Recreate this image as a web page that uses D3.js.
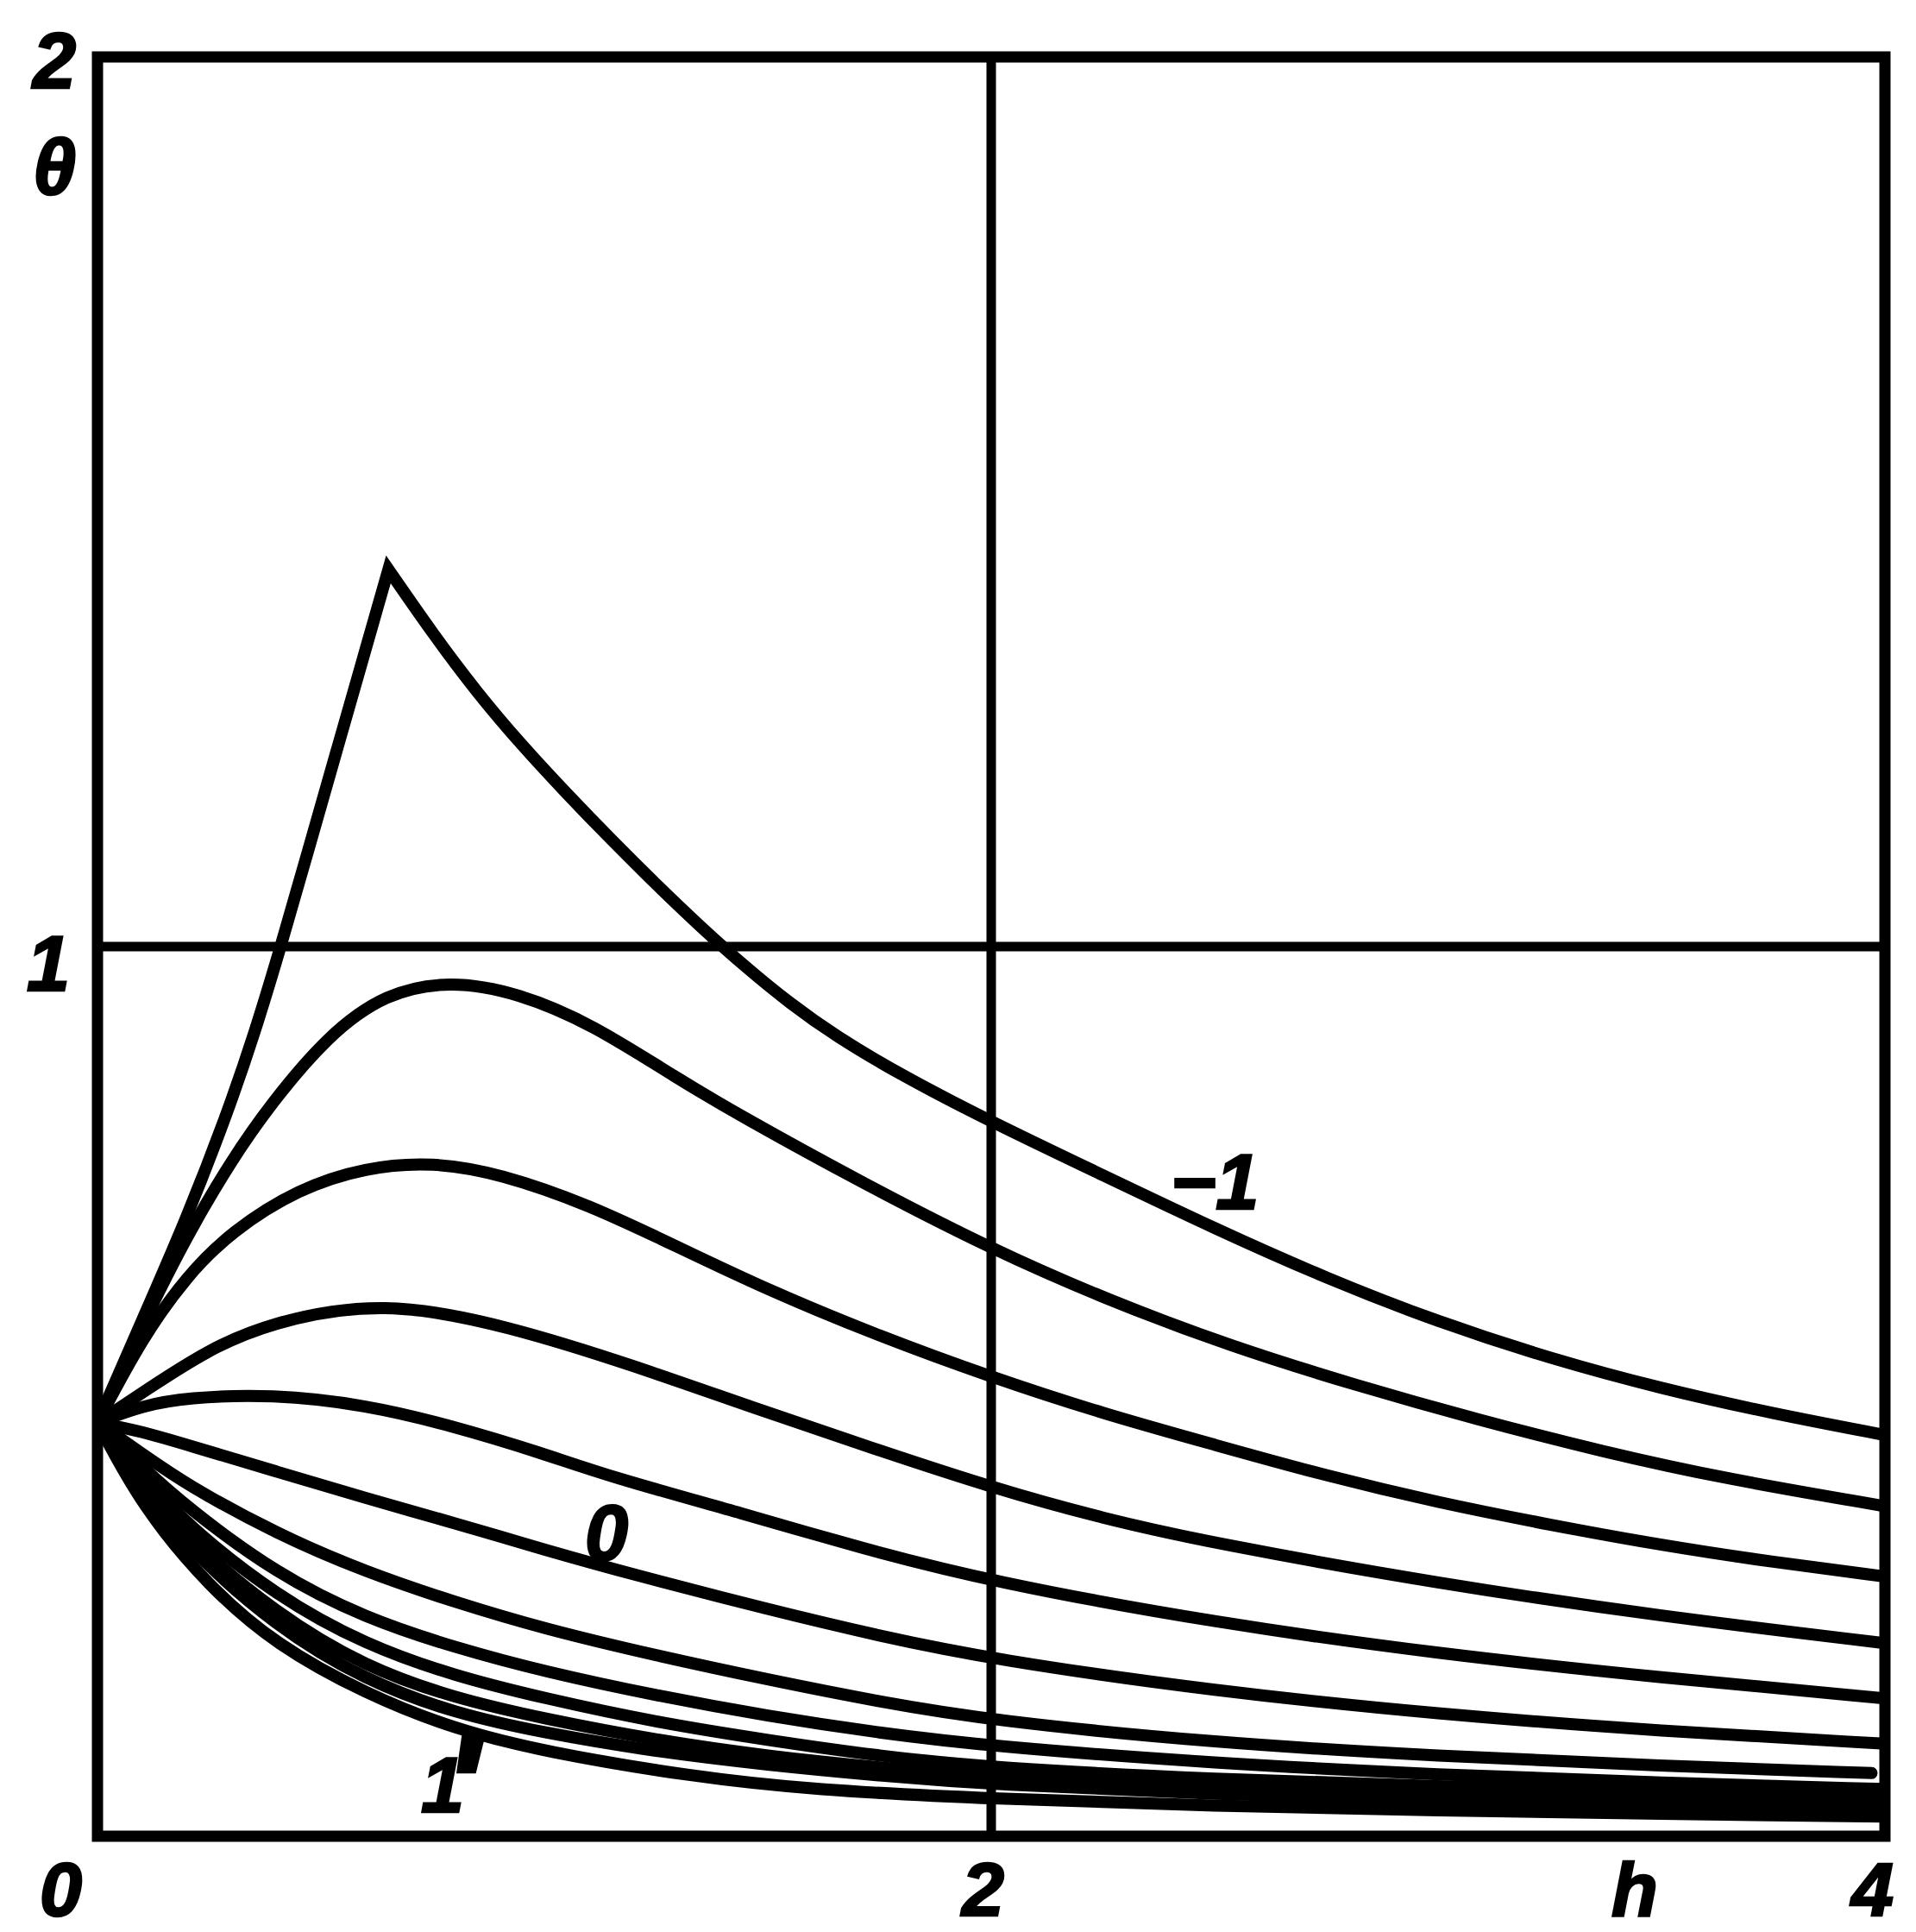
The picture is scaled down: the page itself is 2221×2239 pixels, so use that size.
<!DOCTYPE html>
<html>
<head>
<meta charset="utf-8">
<script src="https://cdn.jsdelivr.net/npm/d3@7"></script>
<style>
  body { margin: 0; background: #fff; }
  text { font-family: "Liberation Sans Narrow", "Liberation Sans", "DejaVu Sans Condensed", sans-serif;
         font-style: italic; font-weight: bold; fill: #000; stroke: #000; stroke-width: 2.5px; }
</style>
</head>
<body>
<svg id="chart" width="2221" height="2239"></svg>
<script>
// Axis ticks
const hTicks = [0, 2, 4];
const thetaTicks = [1, 2];
const hTickLabels = ["0", "2", "4"];
const thetaTickLabels = ["1", "2"];

// Family of θ(h) curves, listed from top to bottom, as [h, θ] pairs.
// The uppermost curve (−1) has a sharp peak: rising and falling branches.
const curveTopRise = [[0, 0.465], [0.1, 0.58], [0.2, 0.695], [0.29, 0.812], [0.35, 0.9],
  [0.409, 0.998], [0.471, 1.107], [0.535, 1.22], [0.6, 1.334], [0.651, 1.424]];
const curveTopFall = [[0.651, 1.424], [0.75, 1.352], [0.85, 1.285], [0.95, 1.226],
  [1.05, 1.172], [1.15, 1.12], [1.25, 1.07], [1.35, 1.022], [1.45, 0.977], [1.55, 0.936],
  [1.65, 0.9], [1.8, 0.855], [2.0, 0.803], [2.25, 0.743], [2.5, 0.683], [2.75, 0.627],
  [3.0, 0.578], [3.25, 0.537], [3.5, 0.503], [3.75, 0.475], [4.0, 0.451]];
const curve02 = [[0, 0.465], [0.1, 0.575], [0.2, 0.675], [0.3, 0.76], [0.386, 0.822],
  [0.515, 0.90], [0.645, 0.948], [0.79, 0.962], [0.942, 0.948], [1.107, 0.913],
  [1.3, 0.851], [1.438, 0.81], [1.713, 0.734], [2.0, 0.66], [2.264, 0.602], [2.54, 0.55],
  [2.815, 0.507], [3.09, 0.468], [3.37, 0.432], [3.64, 0.402], [4.0, 0.371]];
const curve03 = [[0, 0.465], [0.1, 0.56], [0.2, 0.63], [0.3, 0.68], [0.45, 0.728],
  [0.6, 0.752], [0.75, 0.758], [0.9, 0.745], [1.1, 0.71], [1.3, 0.662], [1.5, 0.614],
  [1.75, 0.562], [2.0, 0.516], [2.25, 0.475], [2.5, 0.44], [2.75, 0.405], [3.0, 0.375],
  [3.25, 0.35], [3.5, 0.327], [3.75, 0.308], [4.0, 0.292]];
const curve04 = [[0, 0.465], [0.11, 0.502], [0.245, 0.546], [0.382, 0.577], [0.639, 0.603],
  [0.923, 0.573], [1.195, 0.53], [1.465, 0.482], [1.735, 0.436], [2.0, 0.392],
  [2.25, 0.357], [2.5, 0.329], [3.0, 0.284], [3.5, 0.247], [4.0, 0.217]];
const curve05 = [[0, 0.465], [0.1, 0.484], [0.2, 0.493], [0.39, 0.497], [0.6, 0.485],
  [0.79, 0.462], [1.0, 0.43], [1.14, 0.405], [1.45, 0.362], [1.7, 0.325], [2.0, 0.286],
  [2.5, 0.24], [3.0, 0.205], [3.5, 0.178], [4.0, 0.155]];
const curve06 = [[0, 0.465], [0.1, 0.455], [0.2, 0.44], [0.4, 0.41], [0.6, 0.38],
  [0.8, 0.352], [1.0, 0.322], [1.2, 0.294], [1.5, 0.255], [1.75, 0.225], [2.0, 0.199],
  [2.5, 0.163], [3.0, 0.137], [3.5, 0.118], [4.0, 0.104]];
const curve07 = [[0, 0.465], [0.1, 0.43], [0.2, 0.395], [0.4, 0.34], [0.6, 0.297],
  [0.8, 0.263], [1.0, 0.233], [1.25, 0.203], [1.5, 0.176], [1.75, 0.151], [2.0, 0.13],
  [2.5, 0.105], [3.0, 0.09], [3.5, 0.079], [3.97, 0.071]];
const curve08 = [[0, 0.465], [0.1, 0.415], [0.2, 0.37], [0.4, 0.295], [0.6, 0.245],
  [0.8, 0.212], [1.0, 0.185], [1.25, 0.158], [1.5, 0.135], [1.75, 0.116], [2.0, 0.101],
  [2.5, 0.082], [3.0, 0.069], [3.5, 0.06], [4.0, 0.053]];
const curve09 = [[0, 0.465], [0.1, 0.405], [0.2, 0.35], [0.4, 0.27], [0.6, 0.215],
  [0.8, 0.18], [1.0, 0.155], [1.25, 0.128], [1.5, 0.108], [1.75, 0.09], [2.0, 0.077],
  [2.5, 0.064], [3.0, 0.056], [3.5, 0.05], [4.0, 0.045]];
const curve10 = [[0, 0.465], [0.1, 0.395], [0.2, 0.335], [0.4, 0.25], [0.6, 0.19],
  [0.8, 0.155], [1.0, 0.132], [1.25, 0.108], [1.5, 0.09], [1.75, 0.077], [2.0, 0.067],
  [2.5, 0.055], [3.0, 0.047], [3.5, 0.042], [4.0, 0.038]];
const curve11 = [[0, 0.465], [0.1, 0.39], [0.2, 0.325], [0.4, 0.235], [0.6, 0.175],
  [0.8, 0.138], [1.0, 0.116], [1.25, 0.095], [1.5, 0.08], [1.75, 0.068], [2.0, 0.058],
  [2.5, 0.047], [3.0, 0.04], [3.5, 0.035], [4.0, 0.031]];
const curve12 = [[0, 0.465], [0.1, 0.37], [0.25, 0.28], [0.4, 0.215], [0.6, 0.16],
  [0.8, 0.12], [1.0, 0.095], [1.33, 0.067], [1.6, 0.052], [2.0, 0.042], [2.5, 0.034],
  [3.0, 0.029], [3.5, 0.025], [4.0, 0.022]];

// Curve labels: text and the [h, θ] spot they sit at
const curveLabels = [
  { text: "−1", at: [2.5, 0.705] },
  { text: "0",  at: [1.139, 0.31] }
];
const primeLabel = { text: "1", mark: "'", at: [0.724, 0.027] };

const svg = d3.select("#chart");
const x = d3.scaleLinear().domain([0, 4]).range([113, 2185]);
const y = d3.scaleLinear().domain([0, 2]).range([2128, 66]);

svg.append("defs").append("clipPath").attr("id", "plotArea")
  .append("rect").attr("x", x(0)).attr("y", y(2))
  .attr("width", x(4) - x(0)).attr("height", y(0) - y(2));

// grid lines at h = 2 and θ = 1
svg.append("line").attr("x1", x(2)).attr("x2", x(2)).attr("y1", y(2)).attr("y2", y(0))
  .attr("stroke", "#000").attr("stroke-width", 11);
svg.append("line").attr("x1", x(0)).attr("x2", x(4)).attr("y1", y(1)).attr("y2", y(1))
  .attr("stroke", "#000").attr("stroke-width", 11);

const line = d3.line().x(d => x(d[0])).y(d => y(d[1])).curve(d3.curveBasis);

const g = svg.append("g").attr("clip-path", "url(#plotArea)");
const strokeStyle = sel => sel.attr("fill", "none").attr("stroke", "#000")
  .attr("stroke-width", 14).attr("stroke-linejoin", "miter").attr("stroke-linecap", "round");

// peaked top curve as one path with a corner at the peak
g.append("path")
  .attr("d", line(curveTopRise) + line(curveTopFall).replace(/^M/, "L"))
  .call(strokeStyle);

const smoothCurves = [curve02, curve03, curve04, curve05, curve06, curve07,
  curve08, curve09, curve10, curve11, curve12];
g.selectAll("path.smooth").data(smoothCurves).join("path")
  .attr("class", "smooth").attr("d", line).call(strokeStyle);

// frame
svg.append("rect").attr("x", x(0)).attr("y", y(2))
  .attr("width", x(4) - x(0)).attr("height", y(0) - y(2))
  .attr("fill", "none").attr("stroke", "#000").attr("stroke-width", 13);

// axes (labels only)
const fontSize = 90;
const xAxis = d3.axisBottom(x).tickValues(hTicks).tickSize(0)
  .tickFormat((d, i) => hTickLabels[i]);
const xg = svg.append("g").attr("transform", `translate(0,${y(0)})`).call(xAxis);
xg.select(".domain").remove();
const xShift = [-43, -10, -15];
xg.selectAll(".tick text")
  .attr("font-size", 88).attr("font-family", null)
  .attr("dy", null).attr("y", 92)
  .attr("x", (d, i) => xShift[i]).attr("text-anchor", "middle");

const yAxis = d3.axisLeft(y).tickValues(thetaTicks).tickSize(0)
  .tickFormat((d, i) => thetaTickLabels[i]);
const yg = svg.append("g").attr("transform", `translate(${x(0)},0)`).call(yAxis);
yg.select(".domain").remove();
const yShift = { 1: [-57, 50], 2: [-50, 35] };
yg.selectAll(".tick text")
  .attr("font-size", fontSize).attr("font-family", null)
  .attr("dy", null).attr("text-anchor", "middle")
  .attr("x", d => yShift[d][0]).attr("y", d => yShift[d][1]);

// axis titles
svg.append("text").attr("x", 63).attr("y", 225).attr("text-anchor", "middle")
  .attr("font-size", fontSize).text("θ");
svg.append("text").attr("x", 1895).attr("y", 2220).attr("text-anchor", "middle")
  .attr("font-size", 88).text("h");

// curve labels
curveLabels.forEach(lbl => {
  svg.append("text").attr("x", x(lbl.at[0])).attr("y", y(lbl.at[1]))
    .attr("text-anchor", "middle").attr("font-size", fontSize).text(lbl.text);
});
// lowest curve: "1" with a tall prime reaching up to the curve
const pl = svg.append("text").attr("x", x(primeLabel.at[0])).attr("y", y(primeLabel.at[1]))
  .attr("text-anchor", "start").attr("font-size", fontSize).text(primeLabel.text);
pl.append("tspan").attr("dx", -26).attr("dy", 37).attr("font-size", 190).text(primeLabel.mark);
</script>
</body>
</html>
